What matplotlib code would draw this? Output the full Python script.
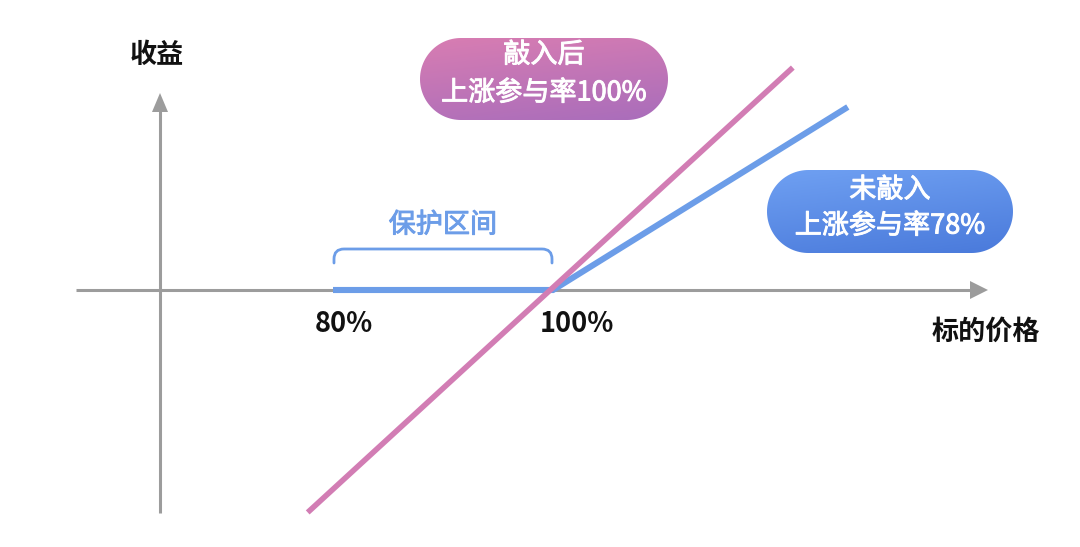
import numpy as np
import matplotlib
matplotlib.use("Agg")
import matplotlib.pyplot as plt
from matplotlib.patches import Polygon, PathPatch
from matplotlib.path import Path
from matplotlib.colors import LinearSegmentedColormap
import matplotlib.patheffects as pe

plt.rcParams['font.family'] = ['Noto Sans CJK SC', 'DejaVu Sans']

# ---------------- data ----------------
knocked_in_price = [77.7, 121.8]          # 标的价格 (%)
knocked_in_payoff = [-22.0, 22.0]         # 收益
not_knocked_price = [80, 100, 126.8]
not_knocked_payoff = [0, 0, 18.1]
tick_positions = [80, 100]
tick_labels = ["80%", "100%"]
x_axis_label = "标的价格"
y_axis_label = "收益"
range_label = "保护区间"
pink_bubble_text = ["敲入后", "上涨参与率100%"]
blue_bubble_text = ["未敲入", "上涨参与率78%"]

# ---------------- styling ----------------
PINK = "#D27DB4"
BLUE = "#6C9DE8"
GRAY = "#9C9C9C"
FS = 19.5
tick_label_shift_px = [11, 24]

W, H = 1080, 547
fig = plt.figure(figsize=(W / 100, H / 100), dpi=100)
fig.patch.set_facecolor("white")

# data axes: price on x, payoff on y
PX_PER_X, X0_PX = 11.0, 333.0
PX_PER_Y, Y0_PX = 10.11, 290.0
ax = fig.add_axes([0, 0, 1, 1])
ax.set_xlim(80 - X0_PX / PX_PER_X, 80 + (W - X0_PX) / PX_PER_X)
ax.set_ylim(-(H - Y0_PX) / PX_PER_Y, Y0_PX / PX_PER_Y)
ax.axis("off")


def dx(px):
    return (px - X0_PX) / PX_PER_X + 80


def dy(py):
    return (Y0_PX - py) / PX_PER_Y


def medium(color):
    return [pe.withStroke(linewidth=0.7, foreground=color)]


# axes with arrows
ax.plot([dx(76), dx(972)], [0, 0], color=GRAY, lw=2.2, solid_capstyle="butt", zorder=1)
ax.add_patch(Polygon([[dx(970), dy(281)], [dx(988), dy(290)], [dx(970), dy(299)]],
                     closed=True, color=GRAY, lw=0, zorder=1))
vx = dx(160)
ax.plot([vx, vx], [dy(513), dy(110)], color=GRAY, lw=2.2, solid_capstyle="butt", zorder=1)
ax.add_patch(Polygon([[dx(152), dy(112)], [dx(160), dy(93)], [dx(168), dy(112)]],
                     closed=True, color=GRAY, lw=0, zorder=1))

# payoff lines
ax.plot(not_knocked_price, not_knocked_payoff, color=BLUE, lw=4.4,
        solid_capstyle="butt", solid_joinstyle="miter", zorder=3)
ax.plot(knocked_in_price, knocked_in_payoff, color=PINK, lw=4.0,
        solid_capstyle="butt", zorder=4)

# tick labels
for p, lab, sh in zip(tick_positions, tick_labels, tick_label_shift_px):
    ax.text(p + sh / PX_PER_X, dy(324), lab, ha="center", va="center", fontsize=FS,
            color="#111111", fontweight="bold")

# ---------------- overlay in pixel coordinates ----------------
ov = fig.add_axes([0, 0, 1, 1], facecolor="none")
ov.axis("off")

ov.text(157, 55, y_axis_label, ha="center", va="center", fontsize=FS,
        fontweight="bold", color="#111111")
ov.text(986, 332, x_axis_label, ha="center", va="center", fontsize=FS,
        fontweight="bold", color="#111111")
ov.text(443, 225, range_label, ha="center", va="center", fontsize=FS,
        color=BLUE, path_effects=medium(BLUE))

# bracket
r = 10
verts = [(334, 263), (334, 249 + r), (334, 249), (334 + r, 249),
         (552 - r, 249), (552, 249), (552, 249 + r), (552, 263)]
codes = [Path.MOVETO, Path.LINETO, Path.CURVE3, Path.CURVE3,
         Path.LINETO, Path.CURVE3, Path.CURVE3, Path.LINETO]
ov.add_patch(PathPatch(Path(verts, codes), fill=False, edgecolor=BLUE, lw=2.0,
                       capstyle="round"))


def bubble(x0, y0, x1, y1, c_top, c_bot, lines, ys):
    h = y1 - y0
    rr = h / 2
    cy = (y0 + y1) / 2
    t_right = np.linspace(-np.pi / 2, np.pi / 2, 60)
    t_left = np.linspace(np.pi / 2, 3 * np.pi / 2, 60)
    pts = np.vstack([
        np.column_stack([x1 - rr + rr * np.cos(t_right), cy + rr * np.sin(t_right)]),
        np.column_stack([x0 + rr + rr * np.cos(t_left), cy + rr * np.sin(t_left)]),
    ])
    patch = Polygon(pts, closed=True, facecolor="none", edgecolor="none", lw=0)
    ov.add_patch(patch)
    cmap = LinearSegmentedColormap.from_list("g", [c_top, c_bot])
    yy, xx = np.mgrid[0:1:100j, 0:1:200j]
    grad = 0.75 * yy + 0.25 * xx
    im = ov.imshow(grad, cmap=cmap, extent=[x0, x1, y1, y0], aspect="auto",
                   interpolation="bilinear", zorder=2)
    im.set_clip_path(patch)
    cx = (x0 + x1) / 2
    for t, yv in zip(lines, ys):
        ov.text(cx, yv, t, ha="center", va="center", fontsize=FS, color="white",
                zorder=3, path_effects=medium("white"))


bubble(420, 38, 668, 120, "#D87DB2", "#A96DBB", pink_bubble_text, [55, 93])
bubble(767, 170, 1013, 253, "#6FA0F2", "#4A7ADB", blue_bubble_text, [190, 226])

ov.set_xlim(0, W)
ov.set_ylim(H, 0)

fig.savefig("out.png", dpi=100, facecolor="white")
